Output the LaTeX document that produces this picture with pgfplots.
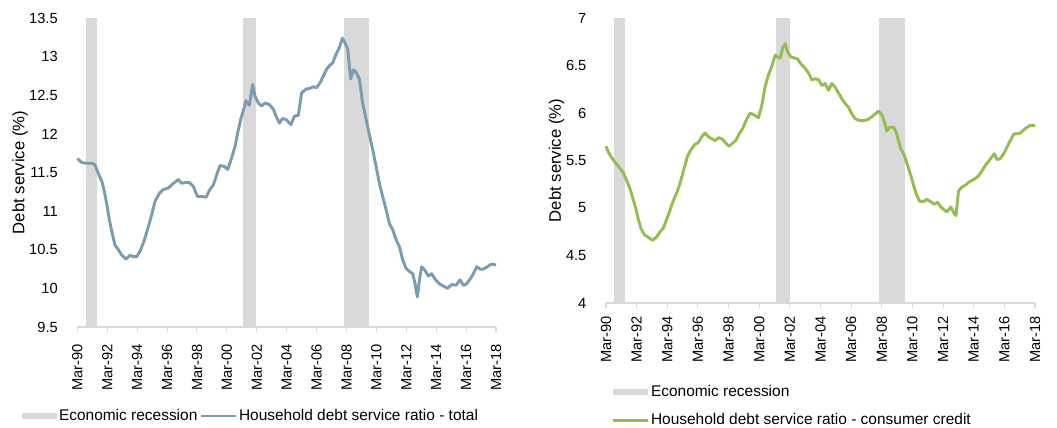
\documentclass[border=0pt]{standalone}
\usepackage{pgfplots}
\pgfplotsset{compat=1.18}
\usepackage{pgfplotstable}
\usepackage{fontspec}
\setmainfont{Liberation Sans}
\definecolor{recgrey}{HTML}{D9D9D9}
\definecolor{axgrey}{HTML}{D9D9D9}
\definecolor{lineblue}{HTML}{7A9CB0}
\definecolor{linegreen}{HTML}{92BE50}
\newcommand{\tf}{\fontsize{11}{13}\selectfont}

\pgfplotstableread{
x y
1990.00 11.68
1990.29 11.63
1990.58 11.62
1990.96 11.62
1991.18 11.60
1991.40 11.49
1991.63 11.39
1991.78 11.28
1991.96 11.10
1992.14 10.89
1992.30 10.74
1992.52 10.56
1992.74 10.50
1992.97 10.43
1993.26 10.38
1993.52 10.43
1993.75 10.41
1993.97 10.41
1994.19 10.48
1994.46 10.61
1994.75 10.80
1994.97 10.95
1995.20 11.13
1995.49 11.23
1995.75 11.28
1996.09 11.30
1996.42 11.36
1996.76 11.41
1996.98 11.36
1997.20 11.37
1997.49 11.37
1997.76 11.32
1998.03 11.19
1998.32 11.19
1998.61 11.18
1998.87 11.28
1999.10 11.34
1999.32 11.47
1999.54 11.59
1999.81 11.58
2000.06 11.54
2000.32 11.69
2000.55 11.84
2000.72 12.01
2000.93 12.19
2001.10 12.30
2001.28 12.43
2001.50 12.37
2001.73 12.64
2001.88 12.49
2002.10 12.40
2002.33 12.36
2002.55 12.40
2002.84 12.38
2003.11 12.32
2003.29 12.23
2003.51 12.14
2003.73 12.20
2004.00 12.18
2004.29 12.12
2004.52 12.23
2004.78 12.24
2005.00 12.53
2005.30 12.58
2005.56 12.59
2005.79 12.61
2006.01 12.60
2006.23 12.66
2006.45 12.75
2006.68 12.84
2006.90 12.89
2007.08 12.92
2007.30 13.03
2007.53 13.12
2007.73 13.24
2007.90 13.18
2008.08 13.10
2008.28 12.71
2008.46 12.83
2008.64 12.80
2008.86 12.71
2009.08 12.40
2009.31 12.19
2009.53 11.99
2009.75 11.80
2009.98 11.58
2010.20 11.36
2010.42 11.19
2010.65 11.02
2010.87 10.84
2011.09 10.76
2011.32 10.63
2011.54 10.54
2011.76 10.37
2011.98 10.26
2012.21 10.22
2012.43 10.19
2012.59 10.06
2012.74 9.89
2012.88 10.11
2013.03 10.28
2013.26 10.23
2013.48 10.16
2013.70 10.19
2013.92 10.12
2014.21 10.06
2014.48 10.03
2014.75 10.00
2015.04 10.05
2015.33 10.04
2015.60 10.11
2015.82 10.04
2016.04 10.06
2016.27 10.12
2016.49 10.19
2016.71 10.28
2016.93 10.25
2017.16 10.25
2017.42 10.28
2017.65 10.31
2017.87 10.31
2018.00 10.30
}\totaldata

\pgfplotstableread{
x y
1990.00 5.65
1990.15 5.59
1990.37 5.53
1990.65 5.47
1990.91 5.42
1991.13 5.37
1991.35 5.29
1991.57 5.20
1991.74 5.11
1991.92 5.01
1992.11 4.88
1992.29 4.78
1992.50 4.72
1992.77 4.69
1993.05 4.66
1993.27 4.69
1993.53 4.75
1993.74 4.79
1993.96 4.88
1994.18 4.98
1994.40 5.08
1994.62 5.16
1994.83 5.26
1995.09 5.41
1995.31 5.54
1995.53 5.61
1995.81 5.67
1996.03 5.69
1996.25 5.75
1996.47 5.79
1996.68 5.75
1996.90 5.73
1997.12 5.71
1997.38 5.74
1997.62 5.72
1997.84 5.68
1998.03 5.65
1998.25 5.68
1998.47 5.71
1998.69 5.78
1998.93 5.84
1999.14 5.92
1999.41 6.00
1999.67 5.98
1999.95 5.95
2000.17 6.08
2000.39 6.28
2000.60 6.40
2000.82 6.49
2001.04 6.61
2001.19 6.59
2001.37 6.58
2001.52 6.68
2001.69 6.73
2001.84 6.65
2002.06 6.59
2002.28 6.58
2002.50 6.57
2002.71 6.52
2003.00 6.47
2003.22 6.42
2003.43 6.35
2003.65 6.36
2003.87 6.35
2004.09 6.29
2004.30 6.31
2004.52 6.24
2004.74 6.31
2004.96 6.27
2005.18 6.21
2005.39 6.15
2005.61 6.10
2005.83 6.06
2006.05 5.99
2006.26 5.94
2006.55 5.92
2006.81 5.92
2007.07 5.93
2007.35 5.96
2007.57 5.99
2007.79 6.02
2008.01 5.98
2008.16 5.91
2008.33 5.81
2008.51 5.85
2008.77 5.85
2008.94 5.80
2009.09 5.71
2009.25 5.62
2009.46 5.56
2009.68 5.45
2009.90 5.34
2010.07 5.24
2010.25 5.15
2010.47 5.07
2010.73 5.07
2010.94 5.09
2011.16 5.07
2011.42 5.04
2011.64 5.06
2011.86 5.01
2012.08 4.98
2012.25 4.96
2012.51 5.01
2012.69 4.95
2012.84 4.92
2013.01 5.18
2013.23 5.22
2013.45 5.24
2013.67 5.27
2013.88 5.29
2014.10 5.31
2014.32 5.34
2014.54 5.39
2014.76 5.45
2014.97 5.49
2015.19 5.54
2015.34 5.57
2015.52 5.51
2015.73 5.52
2015.95 5.57
2016.17 5.64
2016.39 5.71
2016.61 5.78
2016.82 5.78
2017.04 5.79
2017.26 5.82
2017.48 5.85
2017.69 5.87
2017.91 5.87
2018.00 5.87
}\creditdata

\pgfplotsset{
  mystyle/.style={
    scale only axis,
    xmin=1990, xmax=2018,
    xtick={1990,1992,1994,1996,1998,2000,2002,2004,2006,2008,2010,2012,2014,2016,2018},
    xticklabels={Mar-90,Mar-92,Mar-94,Mar-96,Mar-98,Mar-00,Mar-02,Mar-04,Mar-06,Mar-08,Mar-10,Mar-12,Mar-14,Mar-16,Mar-18},
    axis x line*=bottom,
    axis y line*=left,
    y axis line style={draw=none},
    x axis line style={draw=axgrey, line width=1.1pt, -},
    ytick style={draw=none},
    xtick style={draw=axgrey, line width=0.8pt},
    tick align=outside,
    major tick length=4pt,
    /pgf/number format/assume math mode=true,
    tick label style={font=\tf, text=black},
    yticklabel style={anchor=east, inner sep=0pt, xshift=-10.5pt},
    ylabel={Debt service (\%)},
    ylabel style={font=\fontsize{12.5}{15}\selectfont},
    legend cell align=left,
    legend style={draw=none, fill=none, font=\fontsize{11.6}{13}\selectfont, inner sep=0pt,
      nodes={inner sep=1.5pt}},
    clip=false,
  },
  recband/.style={fill=recgrey, draw=none},
  recleg/.style={legend image code/.code={\fill[recgrey] (0pt,-2.2pt) rectangle (26pt,2.2pt);}},
  lineleg/.style={legend image code/.code={\draw[#1, line width=2.2pt] (0pt,0pt) -- (26pt,0pt);}},
}

\begin{document}
\begin{tikzpicture}
\path[use as bounding box] (0,0) rectangle (792.75pt,-321pt);

% Left chart
\begin{axis}[mystyle,
  at={(58pt,-245.25pt)}, anchor=south west,
  width=314pt, height=231.75pt,
  ymin=9.5, ymax=13.5,
  ytick={9.5,10,10.5,11,11.5,12,12.5,13,13.5},
  yticklabels={9.5,10,10.5,11,11.5,12,12.5,13,13.5},
  xticklabel style={rotate=90, anchor=east, inner sep=0pt, xshift=-8.5pt},
  ylabel style={at={(axis description cs:-0.137,0.5)}, anchor=center},
  legend columns=2,
  legend style={at={(axis description cs:-0.132,-0.288)}, anchor=west},
]
\addplot[recband, recleg] coordinates {(1990.55,9.5) (1990.55,13.5) (1991.3,13.5) (1991.3,9.5)} -- cycle;
\addlegendentry{Economic recession\hspace{11.5pt}}
\addplot[recband, forget plot] coordinates {(2001.1,9.5) (2001.1,13.5) (2001.95,13.5) (2001.95,9.5)} -- cycle;
\addplot[recband, forget plot] coordinates {(2007.86,9.5) (2007.86,13.5) (2009.49,13.5) (2009.49,9.5)} -- cycle;
\addplot[lineblue, line width=2.2pt, line join=round, lineleg=lineblue] table[x=x,y=y] {\totaldata};
\addlegendentry{Household debt service ratio - total}
\end{axis}

% Right chart
\begin{axis}[mystyle,
  at={(454.5pt,-227.25pt)}, anchor=south west,
  width=321.75pt, height=213.75pt,
  ymin=4, ymax=7,
  ytick={4,4.5,5,5.5,6,6.5,7},
  yticklabels={4,4.5,5,5.5,6,6.5,7},
  xticklabel style={rotate=90, anchor=east, inner sep=0pt, xshift=-5.5pt},
  ylabel style={at={(axis description cs:-0.115,0.5)}, anchor=center},
  legend columns=1,
  legend style={at={(axis description cs:0.012,-0.28)}, anchor=north west,
    row sep=8.5pt},
]
\addplot[recband, recleg] coordinates {(1990.55,4) (1990.55,7) (1991.25,7) (1991.25,4)} -- cycle;
\addlegendentry{Economic recession}
\addplot[recband, forget plot] coordinates {(2001.08,4) (2001.08,7) (2002.0,7) (2002.0,4)} -- cycle;
\addplot[recband, forget plot] coordinates {(2007.82,4) (2007.82,7) (2009.5,7) (2009.5,4)} -- cycle;
\addplot[linegreen, line width=2.2pt, line join=round, lineleg=linegreen] table[x=x,y=y] {\creditdata};
\addlegendentry{Household debt service ratio - consumer credit}
\end{axis}
\end{tikzpicture}
\end{document}
